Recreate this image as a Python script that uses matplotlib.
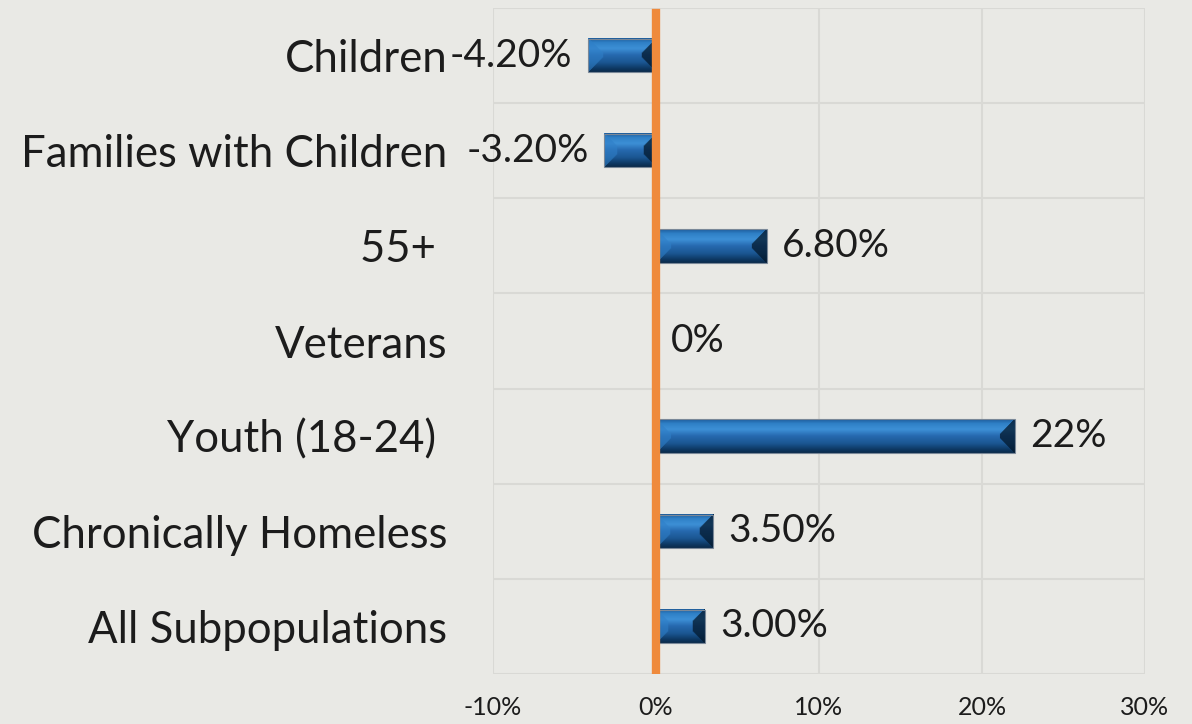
import numpy as np
import matplotlib
matplotlib.use("Agg")
import matplotlib.pyplot as plt
from matplotlib.colors import to_rgb

# data, top row first
categories = ["Children", "Families with Children", "55+ ", "Veterans",
              "Youth (18-24) ", "Chronically Homeless", "All Subpopulations"]
values = [-4.2, -3.2, 6.8, 0.0, 22.0, 3.5, 3.0]
value_labels = ["-4.20%", "-3.20%", "6.80%", "0%", "22%", "3.50%", "3.00%"]
xticks = [-10, 0, 10, 20, 30]
xtick_labels = ["-10%", "0%", "10%", "20%", "30%"]

BG = "#e9e9e5"
GRID = "#d9d9d5"
ORANGE = "#ef8a3c"
TEXT = "#1c1c1c"

plt.rcParams["font.family"] = ["Lato", "DejaVu Sans"]

fig = plt.figure(figsize=(11.92, 7.24), dpi=100, facecolor=BG)
ax = fig.add_axes([493 / 1192, 1 - 674 / 724, (1145 - 493) / 1192, (674 - 8) / 724])
ax.set_facecolor(BG)

bar_h = 0.35

# vertical shading of the bevelled bars (top -> bottom)
stops = [0.0, 0.12, 0.3, 0.5, 0.72, 0.88, 1.0]
stop_cols = ["#1d5e9e", "#2f80c6", "#3d90d6", "#2669ae", "#1b5793", "#0f3c69", "#0a2b4c"]


def bevel_image(nx, ny, b=15):
    cols = np.array([to_rgb(c) for c in stop_cols])
    t = np.linspace(0, 1, ny)
    prof = np.stack([np.interp(t, stops, cols[:, k]) for k in range(3)], axis=1)
    img = np.repeat(prof[:, None, :], nx, axis=1)
    dark = np.array(to_rgb("#03182c"))
    light = np.array(to_rgb("#2f7fc8"))
    for j in range(ny):
        dv = min(j, ny - 1 - j)
        for i in range(nx):
            if i < b and i <= dv:
                img[j, i] = 0.4 * img[j, i] + 0.6 * light
            elif nx - 1 - i < b and nx - 1 - i <= dv:
                img[j, i] = 0.25 * img[j, i] + 0.75 * dark
    return img


px_per_unit = (1145 - 493) / 40.0
for y, v in enumerate(values):
    if v == 0:
        continue
    nx = max(int(abs(v) * px_per_unit), 4)
    img = bevel_image(nx, 33, b=min(15, nx // 4))
    x0, x1 = (0, v) if v > 0 else (v, 0)
    ax.imshow(img, extent=(x0, x1, y + bar_h / 2, y - bar_h / 2),
              aspect="auto", interpolation="bilinear", zorder=2)
    ax.barh(y, v, height=bar_h, color="none", edgecolor="#7a8898", lw=0.8, zorder=3)

for y, (v, lab) in enumerate(zip(values, value_labels)):
    off = 11 if v >= 0 else -11
    ax.annotate(lab, (v, y), xytext=(off, 0), textcoords="offset points",
                ha="left" if v >= 0 else "right", va="center",
                fontsize=28, color=TEXT, zorder=5)

ax.axvline(0, ymin=0, ymax=0.992, color=ORANGE, lw=6, zorder=4)

ax.set_xlim(-10, 30)
ax.set_ylim(len(categories) - 0.5, -0.5)

ax.set_xticks(xticks)
ax.set_xticklabels(xtick_labels, fontsize=18, color=TEXT)
ax.set_yticks(range(len(categories)))
ax.set_yticklabels(categories, fontsize=31.5, color=TEXT)
ax.set_yticks(np.arange(-0.5, len(categories), 1.0), minor=True)
ax.tick_params(axis="y", which="both", length=0, pad=33)
ax.tick_params(axis="x", length=0, pad=16)

ax.grid(True, axis="x", which="major", color=GRID, lw=1.5, zorder=0)
ax.grid(True, axis="y", which="minor", color=GRID, lw=1.5, zorder=0)
ax.grid(False, axis="y", which="major")
ax.set_axisbelow(True)
for s in ax.spines.values():
    s.set_visible(False)

fig.savefig("out.png", dpi=100, facecolor=BG)
